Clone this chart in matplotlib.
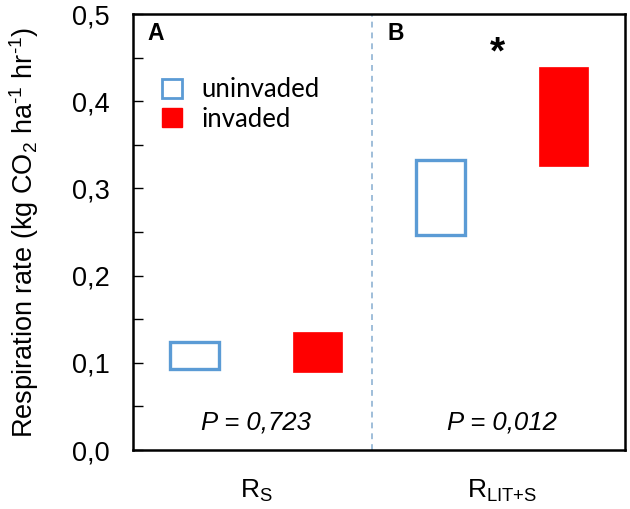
import matplotlib
matplotlib.use("Agg")
import matplotlib.pyplot as plt
from matplotlib.patches import Rectangle

plt.rcParams['font.family'] = ['Liberation Sans', 'DejaVu Sans']
plt.rcParams['mathtext.fontset'] = 'custom'
plt.rcParams['mathtext.rm'] = 'Liberation Sans'
plt.rcParams['mathtext.it'] = 'Liberation Sans:italic'

categories = ["R$_\\text{S}$", "R$_\\text{LIT+S}$"]
groups = ["uninvaded", "invaded"]
uninvaded_low = [0.093, 0.246]
uninvaded_high = [0.124, 0.333]
invaded_low = [0.090, 0.326]
invaded_high = [0.135, 0.439]
p_labels = ["P = 0,723", "P = 0,012"]
yticks = [0.0, 0.1, 0.2, 0.3, 0.4, 0.5]
ytick_labels = ["0,0", "0,1", "0,2", "0,3", "0,4", "0,5"]

blue = "#5b9bd5"
red = "#ff0000"

fig = plt.figure(figsize=(6.30, 5.09), dpi=100)
ax = fig.add_axes([133/630, 1 - 450/509, 492/630, 436/509])

cat_pos = [0.25, 0.75]
off = 0.125
w = 0.10
for i, c in enumerate(cat_pos):
    ax.bar(c - off, uninvaded_high[i] - uninvaded_low[i], bottom=uninvaded_low[i],
           width=w, facecolor="white", edgecolor=blue, linewidth=2.4, zorder=3)
    ax.bar(c + off, invaded_high[i] - invaded_low[i], bottom=invaded_low[i],
           width=w, facecolor=red, edgecolor=red, linewidth=0.5, zorder=3)
    ax.text(c, 0.032, p_labels[i], ha="center", va="center", fontsize=18.5, style="italic")

ax.axvline(0.486, color="#8fb3d3", linestyle=(0, (3.5, 3)), linewidth=1.2)

ax.set_xlim(0, 1)
ax.set_ylim(0, 0.5)
ax.set_xticks(cat_pos)
ax.set_xticklabels(categories, fontsize=19)
ax.tick_params(axis='x', length=0, pad=20)
ax.set_yticks(yticks)
ax.set_yticklabels(ytick_labels, fontsize=19.5)
ax.set_yticks([0.05, 0.15, 0.25, 0.35, 0.45], minor=True)
ax.tick_params(axis='y', which='both', direction='in', length=7, width=1, pad=17, right=False)
for s in ax.spines.values():
    s.set_linewidth(1.8)

ax.set_ylabel("Respiration rate (kg CO$_\\text{2}$ ha$^\\text{-1}$ hr$^\\text{-1}$)", fontsize=19.5, labelpad=22)

ax.text(0.03, 0.955, "A", transform=ax.transAxes, fontsize=16.5, fontweight="bold", va="center")
ax.text(0.518, 0.955, "B", transform=ax.transAxes, fontsize=16.5, fontweight="bold", va="center")
ax.text(0.74, 0.909, "*", transform=ax.transAxes, fontsize=28, fontweight="bold", ha="center", va="center")

handles = [Rectangle((0, 0), 1, 1, facecolor="white", edgecolor=blue, linewidth=2),
           Rectangle((0, 0), 1, 1, facecolor=red, edgecolor=red)]
leg = ax.legend(handles, groups, loc="upper left", bbox_to_anchor=(0.039, 0.878),
                frameon=False, handlelength=0.75, handleheight=0.75,
                handletextpad=0.75, labelspacing=0.17, borderaxespad=0,
                prop={'family': ['Lato', 'DejaVu Sans'], 'size': 18.5})

fig.savefig("out.png", dpi=100)
